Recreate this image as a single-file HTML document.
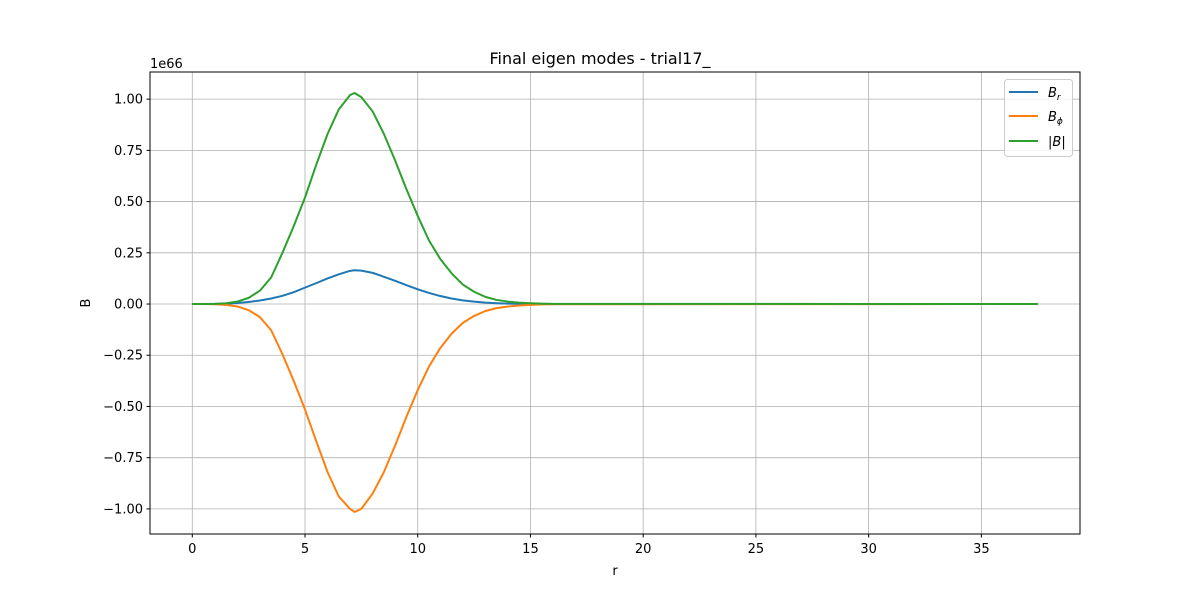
<!DOCTYPE html>
<html><head><meta charset="utf-8"><style>
body{margin:0;background:#fff;font-family:"Liberation Sans","DejaVu Sans",sans-serif}
svg text{font-family:"DejaVu Sans","Liberation Sans",sans-serif}
</style></head><body>
<svg id="chart" width="1200" height="600" xmlns="http://www.w3.org/2000/svg">
<rect width="1200" height="600" fill="#fff"/>
<g id="grid"></g>
<g id="series"></g>
<rect x="150" y="72" width="930" height="462" fill="none" stroke="#000" stroke-width="1"/>
<g id="ticks"></g>
<text x="600" y="64" font-size="16" text-anchor="middle">Final eigen modes - trial17_</text>
<text x="615" y="575" font-size="13" text-anchor="middle">r</text>
<text x="90" y="303" font-size="13" text-anchor="middle" transform="rotate(-90 90 303)">B</text>
<text x="150" y="68" font-size="13">1e66</text>
<g>
<rect x="1004.5" y="79.5" width="68" height="77" rx="3" fill="#fff" fill-opacity="0.8" stroke="#ccc"/>
<line x1="1009" y1="92" x2="1038" y2="92" stroke="#1f77b4" stroke-width="2"/>
<text x="1048" y="97" font-size="13" font-style="italic">B<tspan font-size="9" dy="3">r</tspan></text>
<line x1="1009" y1="116" x2="1038" y2="116" stroke="#ff7f0e" stroke-width="2"/>
<text x="1048" y="121" font-size="13" font-style="italic">B<tspan font-size="9" dy="3">ϕ</tspan></text>
<line x1="1009" y1="141" x2="1038" y2="141" stroke="#2ca02c" stroke-width="2"/>
<text x="1048" y="146" font-size="13">|<tspan font-style="italic">B</tspan>|</text>
</g>
</svg>
<script>
const rVals=[0,0.5,1,1.5,2,2.5,3,3.5,4,4.5,5,5.5,6,6.5,7,7.2,7.5,8,8.5,9,9.5,10,10.5,11,11.5,12,12.5,13,13.5,14,14.5,15,15.5,16,37.5];
const brVals=[0,0,0.0005,0.002,0.005,0.01,0.017,0.027,0.04,0.058,0.08,0.102,0.125,0.145,0.162,0.165,0.163,0.152,0.133,0.113,0.092,0.072,0.054,0.039,0.027,0.018,0.012,0.007,0.004,0.002,0.001,0.0005,0.0003,0.0001,0];
const bphiVals=[0,0,-0.001,-0.004,-0.012,-0.03,-0.064,-0.128,-0.245,-0.375,-0.515,-0.67,-0.82,-0.94,-1.0,-1.015,-1.0,-0.925,-0.82,-0.69,-0.55,-0.42,-0.305,-0.215,-0.145,-0.092,-0.058,-0.034,-0.02,-0.012,-0.007,-0.004,-0.002,-0.001,0];
const babsVals=[0,0,0.001,0.004,0.012,0.03,0.065,0.13,0.25,0.38,0.52,0.68,0.83,0.95,1.02,1.03,1.01,0.94,0.83,0.70,0.56,0.43,0.31,0.22,0.15,0.095,0.06,0.035,0.02,0.012,0.007,0.004,0.002,0.001,0];
const xTicks=[0,5,10,15,20,25,30,35];
const yTicks=[-1,-0.75,-0.5,-0.25,0,0.25,0.5,0.75,1];
const yTickLabels=["−1.00","−0.75","−0.50","−0.25","0.00","0.25","0.50","0.75","1.00"];
const NS="http://www.w3.org/2000/svg";
const xMin=-1.875,xMax=39.375,yMin=-1.1225,yMax=1.1325;
const X=v=>150+(v-xMin)/(xMax-xMin)*930;
const Y=v=>534-(v-yMin)/(yMax-yMin)*462;
function mk(tag,attrs,parent){const e=document.createElementNS(NS,tag);for(const k in attrs)e.setAttribute(k,attrs[k]);parent.appendChild(e);return e;}
const grid=document.getElementById('grid'),ticks=document.getElementById('ticks'),series=document.getElementById('series');
xTicks.forEach(t=>{const x=X(t);
const g=mk('line',{x1:x,y1:72,x2:x,y2:534,stroke:'#b0b0b0','stroke-width':0.8},grid);


mk('line',{x1:x,y1:534,x2:x,y2:537.5,stroke:'#000'},ticks);
const tx=mk('text',{x:x,y:553,'font-size':13,'text-anchor':'middle'},ticks);tx.textContent=t;

});
yTicks.forEach((t,i)=>{const y=Y(t);
const g=mk('line',{x1:150,y1:y,x2:1080,y2:y,stroke:'#b0b0b0','stroke-width':0.8},grid);


mk('line',{x1:146.5,y1:y,x2:150,y2:y,stroke:'#000'},ticks);
const tx=mk('text',{x:143,y:y+4.5,'font-size':13,'text-anchor':'end'},ticks);tx.textContent=yTickLabels[i];

});
[[brVals,'#1f77b4','line-br'],[bphiVals,'#ff7f0e','line-bphi'],[babsVals,'#2ca02c','line-babs']].forEach(([vals,c,n])=>{
const d=vals.map((v,i)=>(i?'L':'M')+X(rVals[i]).toFixed(2)+','+Y(v).toFixed(2)).join('');
const p=mk('path',{d:d,fill:'none',stroke:c,'stroke-width':2,'stroke-linejoin':'round'},series);

});
</script>
</body></html>
